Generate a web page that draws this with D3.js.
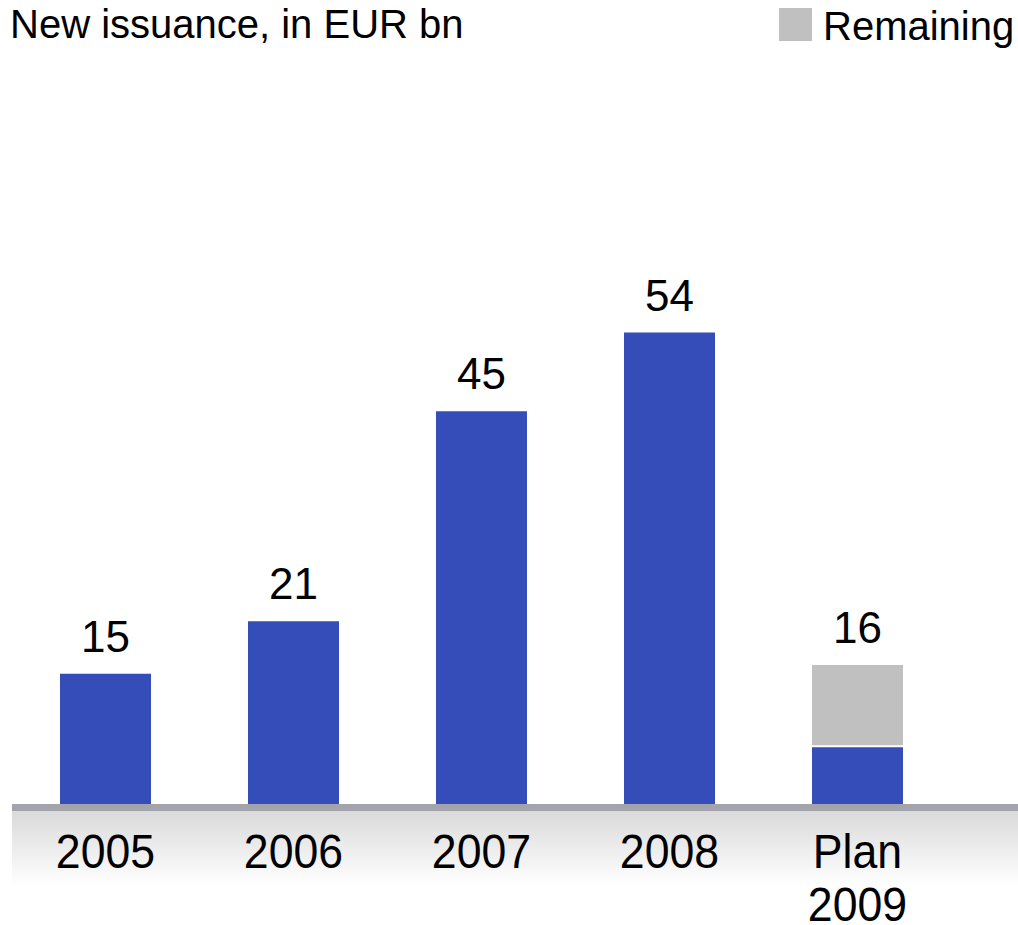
<!DOCTYPE html>
<html><head><meta charset="utf-8">
<script src="https://cdn.jsdelivr.net/npm/d3@7"></script>
<style>body{margin:0;background:#fff}svg{display:block}text{font-family:"Liberation Sans",Arial,sans-serif}</style>
</head><body><svg id="c" width="1018" height="925"></svg>
<script>
const categories = ["2005","2006","2007","2008","Plan\n2009"];
const issued = [15, 21, 45, 54, 6.6];
const remaining = [0, 0, 0, 0, 9.4];
const totals = [15, 21, 45, 54, 16];
const title = "New issuance, in EUR bn";
const legendLabel = "Remaining";

const svg = d3.select("#c");
const blue = "#344db8", grey = "#c0c0c0";
const baseY = 805;
const x = d3.scaleBand().domain(categories).range([11.5, 951.5]).paddingInner(0.516).paddingOuter(0.258);
const y = d3.scaleLinear().domain([0, 60]).range([baseY, baseY - 525]);

const defs = svg.append("defs");
const g = defs.append("linearGradient").attr("id","bg").attr("x1",0).attr("x2",0).attr("y1",0).attr("y2",1);
g.append("stop").attr("offset",0).attr("stop-color","#dadada");
g.append("stop").attr("offset",1).attr("stop-color","#ffffff");
svg.append("rect").attr("x",12).attr("y",811).attr("width",1006).attr("height",75).attr("fill","url(#bg)");

svg.selectAll("rect.b").data(categories).join("rect").attr("class","b")
  .attr("x", d => x(d)).attr("width", x.bandwidth())
  .attr("y", (d,i) => y(issued[i])).attr("height", (d,i) => baseY - y(issued[i]))
  .attr("fill", blue);
svg.selectAll("rect.r").data(categories.filter((d,i)=>remaining[i]>0)).join("rect").attr("class","r")
  .attr("x", d => x(d)).attr("width", x.bandwidth())
  .attr("y", d => { const i = categories.indexOf(d); return y(issued[i] + remaining[i]); })
  .attr("height", d => { const i = categories.indexOf(d); return y(issued[i]) - y(issued[i] + remaining[i]) - 2; })
  .attr("fill", grey);

svg.append("rect").attr("x",12).attr("y",804).attr("width",1006).attr("height",7).attr("fill","#a3a3ab");

svg.selectAll("text.v").data(categories).join("text").attr("class","v")
  .attr("x", d => x(d) + x.bandwidth()/2).attr("y", (d,i) => y(totals[i]) - 22)
  .attr("text-anchor","middle").attr("font-size",44).attr("fill","#000")
  .text((d,i) => totals[i]);

const cl = svg.selectAll("text.c").data(categories).join("text").attr("class","c")
  .attr("text-anchor","middle").attr("font-size",48).attr("fill","#000")
  .attr("transform", d => `translate(${x(d) + x.bandwidth()/2},868) scale(0.93,1)`);
cl.selectAll("tspan").data(d => d.split("\n")).join("tspan")
  .attr("x",0).attr("dy",(d,i)=> i===0?0:53).text(d=>d);

svg.append("text").attr("x",10).attr("y",38).attr("font-size",40).attr("fill","#000").text(title);
svg.append("rect").attr("x",779).attr("y",8).attr("width",33).attr("height",33).attr("fill",grey);
svg.append("text").attr("x",823).attr("y",40).attr("font-size",40).attr("fill","#000").text(legendLabel);
</script></body></html>
